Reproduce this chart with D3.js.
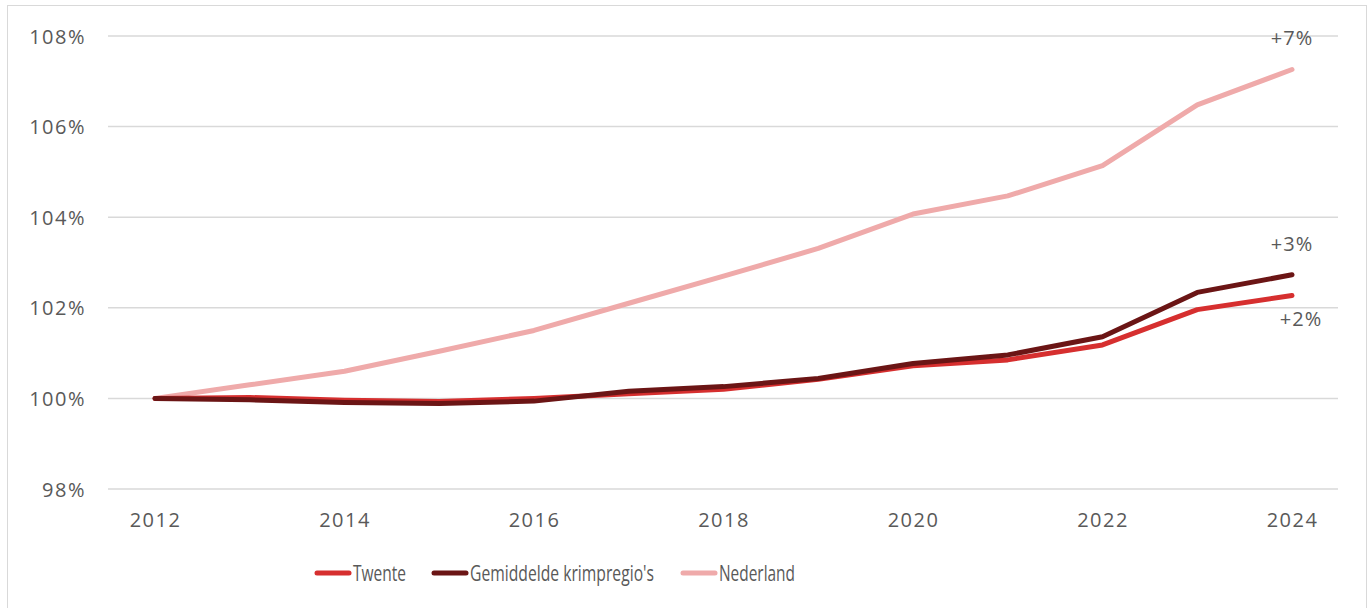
<!DOCTYPE html>
<html>
<head>
<meta charset="utf-8">
<script src="https://cdn.jsdelivr.net/npm/d3@7"></script>
<style>
  body { margin: 0; background: #fff; }
  text { font-family: "Open Sans", Lato, sans-serif; fill: #595959; }
</style>
</head>
<body>
<svg id="chart" width="1370" height="608"></svg>
<script>
// years on the x axis
const years = [2012, 2013, 2014, 2015, 2016, 2017, 2018, 2019, 2020, 2021, 2022, 2023, 2024];
// index, 2012 = 100%
const twente = [100, 100.02, 99.96, 99.93, 100.0, 100.1, 100.2, 100.42, 100.72, 100.85, 101.18, 101.96, 102.27];
const krimpregios = [100, 99.97, 99.91, 99.89, 99.94, 100.16, 100.26, 100.44, 100.77, 100.96, 101.36, 102.34, 102.73];
const nederland = [100, 100.3, 100.6, 101.04, 101.5, 102.1, 102.7, 103.31, 104.07, 104.47, 105.14, 106.48, 107.26];
const yTicks = [98, 100, 102, 104, 106, 108];
const xTicks = [2012, 2014, 2016, 2018, 2020, 2022, 2024];
const seriesNames = ["Twente", "Gemiddelde krimpregio's", "Nederland"];
const endLabels = ["+2%", "+3%", "+7%"];

const colors = ["#d62f2f", "#6b1515", "#efaaaa"];

const svg = d3.select("#chart");

// outer frame
svg.append("rect")
    .attr("x", 7.5).attr("y", 5.5)
    .attr("width", 1359).attr("height", 610)
    .attr("fill", "none")
    .attr("stroke", "#d9d9d9");

const x = d3.scaleLinear().domain([2012, 2024]).range([155, 1292]);
const y = d3.scaleLinear().domain([98, 108]).range([489, 36]);

// gridlines
svg.append("g")
    .selectAll("line")
    .data(yTicks)
    .enter()
    .append("line")
    .attr("x1", 108).attr("x2", 1338)
    .attr("y1", d => y(d)).attr("y2", d => y(d))
    .attr("stroke", "#d9d9d9")
    .attr("stroke-width", 1.5);

// y axis labels
const yAxis = d3.axisLeft(y)
    .tickValues(yTicks)
    .tickSize(0)
    .tickPadding(0)
    .tickFormat(d => d + "%");
const gy = svg.append("g")
    .attr("transform", "translate(86,0)")
    .call(yAxis);
gy.select(".domain").remove();
gy.selectAll("text")
    .style("font-size", "20px")
    .style("letter-spacing", "1.5px")
    .attr("dy", "0.35em");

// x axis labels
const xAxis = d3.axisBottom(x)
    .tickValues(xTicks)
    .tickSize(0)
    .tickPadding(0)
    .tickFormat(d3.format("d"));
const gx = svg.append("g")
    .attr("transform", "translate(0,520)")
    .call(xAxis);
gx.select(".domain").remove();
gx.selectAll("text")
    .style("font-size", "20px")
    .style("letter-spacing", "1.5px")
    .attr("dy", "0.35em");

const allSeries = [twente, krimpregios, nederland];

const line = d3.line()
    .x((d, i) => x(years[i]))
    .y(d => y(d));

// Nederland at the back, dark line on top of Twente
const order = [2, 0, 1];
order.forEach(i => {
    svg.append("path")
        .datum(allSeries[i])
        .attr("d", line)
        .attr("fill", "none")
        .attr("stroke", colors[i])
        .attr("stroke-width", 5)
        .attr("stroke-linejoin", "round")
        .attr("stroke-linecap", "round");
});

// end labels
const labelPos = [
    { dx: 9, dy: 23 },
    { dx: 0, dy: -31 },
    { dx: 0, dy: -32 }
];
allSeries.forEach((s, i) => {
    svg.append("text")
        .attr("x", x(years[years.length - 1]) + labelPos[i].dx)
        .attr("y", y(s[s.length - 1]) + labelPos[i].dy)
        .attr("text-anchor", "middle")
        .attr("dy", "0.35em")
        .style("font-size", "20px")
        .style("letter-spacing", "1px")
        .text(endLabels[i]);
});

// legend
const legendX = [315, 432, 681];
const legendW = [53, 184, 76];
const legend = svg.append("g");
seriesNames.forEach((name, i) => {
    legend.append("line")
        .attr("x1", legendX[i] + 2).attr("x2", legendX[i] + 34)
        .attr("y1", 573).attr("y2", 573)
        .attr("stroke", colors[i])
        .attr("stroke-width", 5)
        .attr("stroke-linecap", "round");
    legend.append("text")
        .attr("x", legendX[i] + 38)
        .attr("y", 573)
        .attr("dy", "0.35em")
        .attr("textLength", legendW[i])
        .attr("lengthAdjust", "spacingAndGlyphs")
        .style("font-size", "22px")
        .text(name);
});
</script>
</body>
</html>
